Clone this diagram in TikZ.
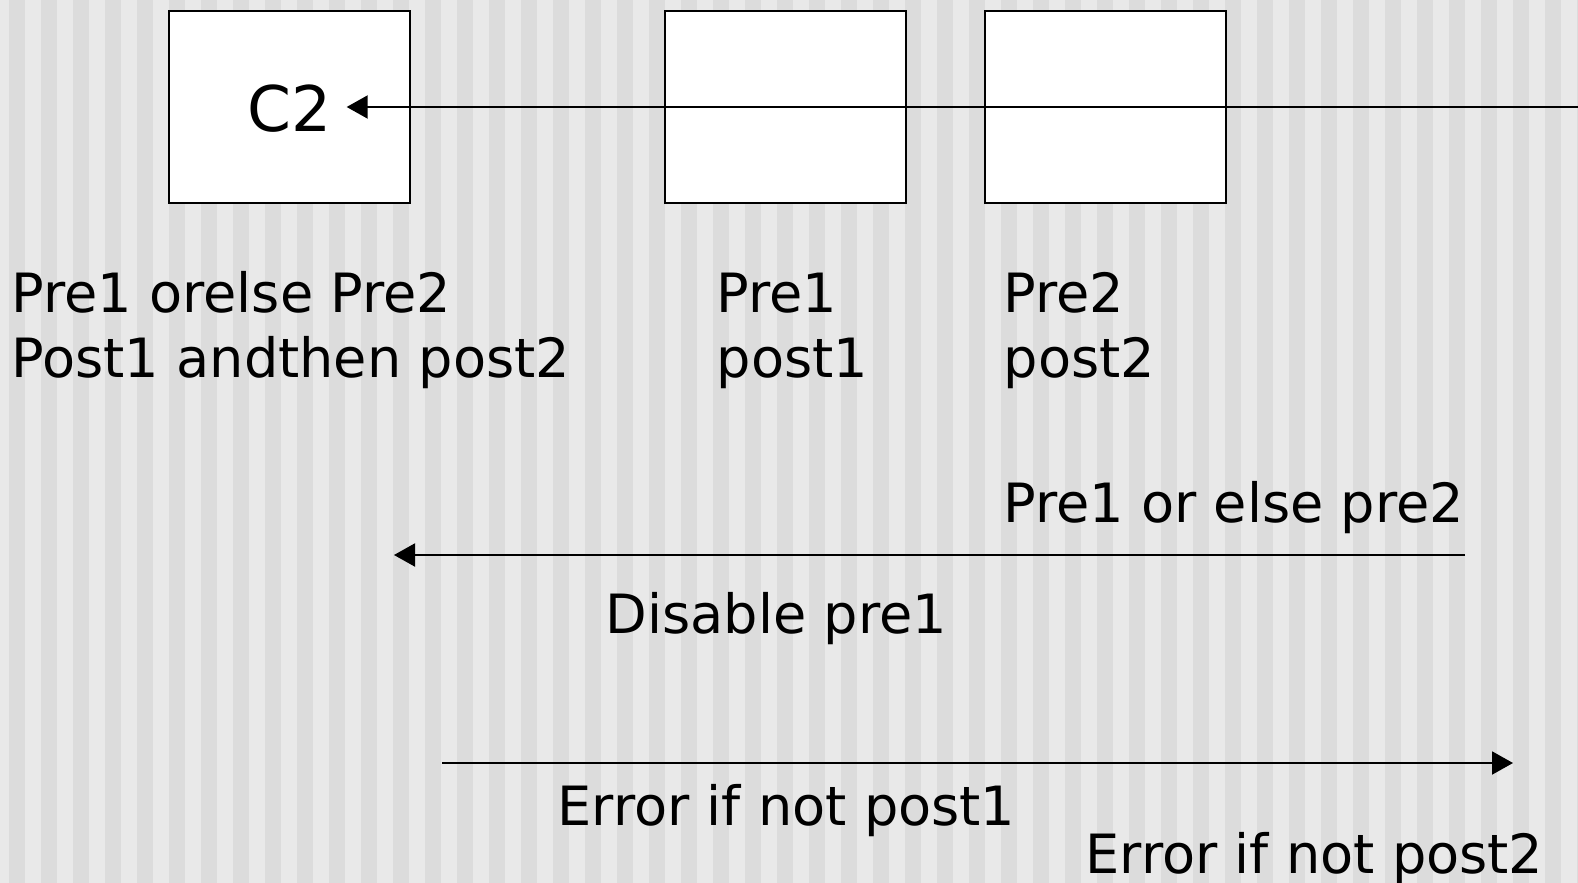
\documentclass[tikz,border=0pt]{standalone}
\usepackage{fontspec}
\setmainfont{DejaVu Sans}
\usetikzlibrary{positioning,arrows.meta}
\definecolor{stripelight}{HTML}{E9E9E9}
\definecolor{stripedark}{HTML}{DCDCDC}
\tikzset{
    slot/.style={
        rectangle, draw, line width=0.2mm,
        fill=white, minimum width=24.1mm,
        minimum height=19.2mm, inner sep=0pt
    },
    txt/.style={
        anchor=base west, inner sep=0pt, align=left,
        font=\fontsize{15.4}{18.5}\selectfont
    },
    link/.style={
        line width=0.2mm,
        -{Triangle[length=2.1mm, width=2.3mm]}
    }
}
\begin{document}
\begin{tikzpicture}[x=0.1mm, y=-0.1mm]

        % Background stripes
        \fill[stripelight] (0,0) rectangle (1578,883);
        \useasboundingbox (0,0) rectangle (1578,883);
        \foreach \k in {0,...,49}
            \fill[stripedark] (9+32*\k,0) rectangle (25+32*\k,883);

        % Boxes
        \node[slot] (b1) at (289.5,107) {};
        \node[slot] (b2) at (785.5,107) {};
        \node[slot] (b3) at (1105.5,107) {};
        \node[anchor=base, inner ysep=0pt, inner xsep=1.45mm,
            font=\fontsize{17.9}{21}\selectfont] (ctwo) at (289.5,132) {C2};

        % Conditions under the boxes (base = last line)
        \node[txt] (cond1) at (11,378) {Pre1 orelse Pre2\\Post1 andthen post2};
        \node[txt] (cond2) at (716,378) {Pre1\\post1};
        \node[txt] (cond3) at (1003,378) {Pre2\\post2};

        % Messages
        \node[txt] (m1) at (1003,522) {Pre1 or else pre2};
        \node[txt] (m2) at (605,633) {Disable pre1};
        \node[txt] (m3) at (557,825) {Error if not post1};
        \node[txt] (m4) at (1085,873) {Error if not post2};

        % Free ends of the arrows
        \coordinate (topin) at (1578,107);
        \coordinate (callfrom) at (1465,555);
        \coordinate (callto) at (394,555);
        \coordinate (backfrom) at (442,763);
        \coordinate (backto) at (1513,763);

        % Arrows
        \draw[link] (topin) -- (topin -| ctwo.east);
        \draw[link] (callfrom) -- (callto);
        \draw[link] (backfrom) -- (backto);

    \end{tikzpicture}
\end{document}
